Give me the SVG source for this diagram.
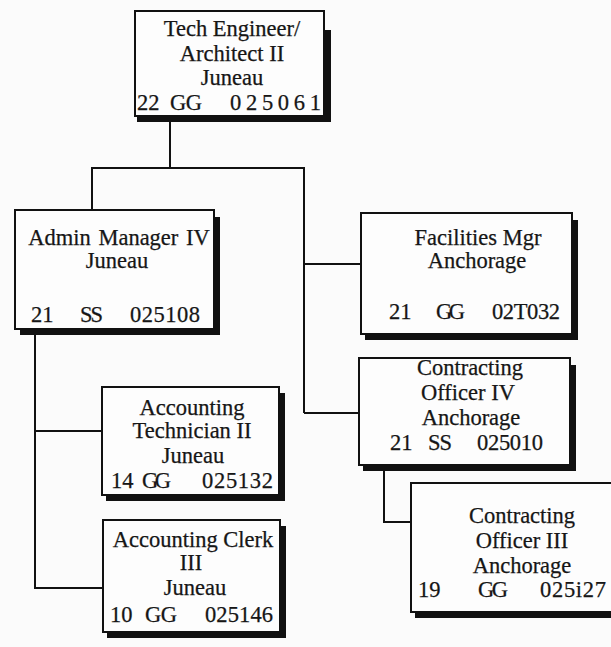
<svg xmlns="http://www.w3.org/2000/svg" width="611" height="647" viewBox="0 0 611 647">
<style>
.bg{fill:#fbfbfb}
.box{fill:#fdfdfd;stroke:#111;stroke-width:2}
.sh{stroke:#111;stroke-width:6;fill:none;stroke-linecap:butt}
.con{stroke:#111;stroke-width:2;fill:none}
text{font-family:"Liberation Serif","Times New Roman",serif;font-size:22.5px;fill:#161616;stroke:#161616;stroke-width:0.25}
.t{text-anchor:middle}
</style>
<rect class="bg" x="0" y="0" width="611" height="647"/>
<g id="connectors">
<path class="con" d="M170 120V168M92 210V168H304V413M304 264H361M304 413H359"/>
<path class="con" d="M35 335V588H103M35 431H102"/>
<path class="con" d="M384 470V522H411"/>
</g>
<g id="n-tech">
<rect class="box" x="135" y="11" width="189" height="105"/>
<path class="sh" d="M328 30V119H137"/>
<text class="t" x="232" y="36">Tech Engineer/</text>
<text class="t" x="232" y="61">Architect II</text>
<text class="t" x="232" y="85">Juneau</text>
<text y="110"><tspan x="137">22</tspan><tspan x="170" textLength="32">GG</tspan><tspan x="230" textLength="91">025061</tspan></text>
</g>
<g id="n-admin">
<rect class="box" x="15" y="210" width="199" height="119"/>
<path class="sh" d="M217 217V332H20"/>
<text class="t" x="119" y="245" word-spacing="2">Admin Manager IV</text>
<text class="t" x="117" y="268">Juneau</text>
<text y="322"><tspan x="31">21</tspan><tspan x="80" textLength="23">SS</tspan><tspan x="130" textLength="70">025108</tspan></text>
</g>
<g id="n-facilities">
<rect class="box" x="361" y="213" width="211" height="121"/>
<path class="sh" d="M575 220V337H365"/>
<text class="t" x="478" y="245">Facilities Mgr</text>
<text class="t" x="477" y="268">Anchorage</text>
<text y="319"><tspan x="389">21</tspan><tspan x="436" textLength="29">GG</tspan><tspan x="492" textLength="68">02T032</tspan></text>
</g>
<g id="n-acctech">
<rect class="box" x="102" y="387" width="177" height="108"/>
<path class="sh" d="M282 393V498H106"/>
<text class="t" x="192" y="415">Accounting</text>
<text class="t" x="192" y="438">Technician II</text>
<text class="t" x="193" y="463">Juneau</text>
<text y="488"><tspan x="111">14</tspan><tspan x="142" textLength="29">GG</tspan><tspan x="202" textLength="71">025132</tspan></text>
</g>
<g id="n-accclerk">
<rect class="box" x="103" y="520" width="177" height="112"/>
<path class="sh" d="M283 526V635H107"/>
<text class="t" x="193" y="547">Accounting Clerk</text>
<text class="t" x="191" y="570">III</text>
<text class="t" x="195" y="595">Juneau</text>
<text y="622"><tspan x="110">10</tspan><tspan x="145" textLength="32">GG</tspan><tspan x="205" textLength="68">025146</tspan></text>
</g>
<g id="n-co4">
<rect class="box" x="359" y="358" width="211" height="107"/>
<path class="sh" d="M573 365V468H363"/>
<text class="t" x="470" y="375">Contracting</text>
<text class="t" x="468" y="400">Officer IV</text>
<text class="t" x="471" y="425">Anchorage</text>
<text y="450"><tspan x="390">21</tspan><tspan x="428" textLength="24">SS</tspan><tspan x="477" textLength="66">025010</tspan></text>
</g>
<g id="n-co3">
<rect class="box" x="411" y="483" width="205" height="129"/>
<path class="sh" d="M415 615H611"/>
<text class="t" x="522" y="523">Contracting</text>
<text class="t" x="522" y="548">Officer III</text>
<text class="t" x="522" y="573">Anchorage</text>
<text y="597"><tspan x="418">19</tspan><tspan x="478" textLength="30">GG</tspan><tspan x="540" textLength="66">025i27</tspan></text>
</g>
</svg>
